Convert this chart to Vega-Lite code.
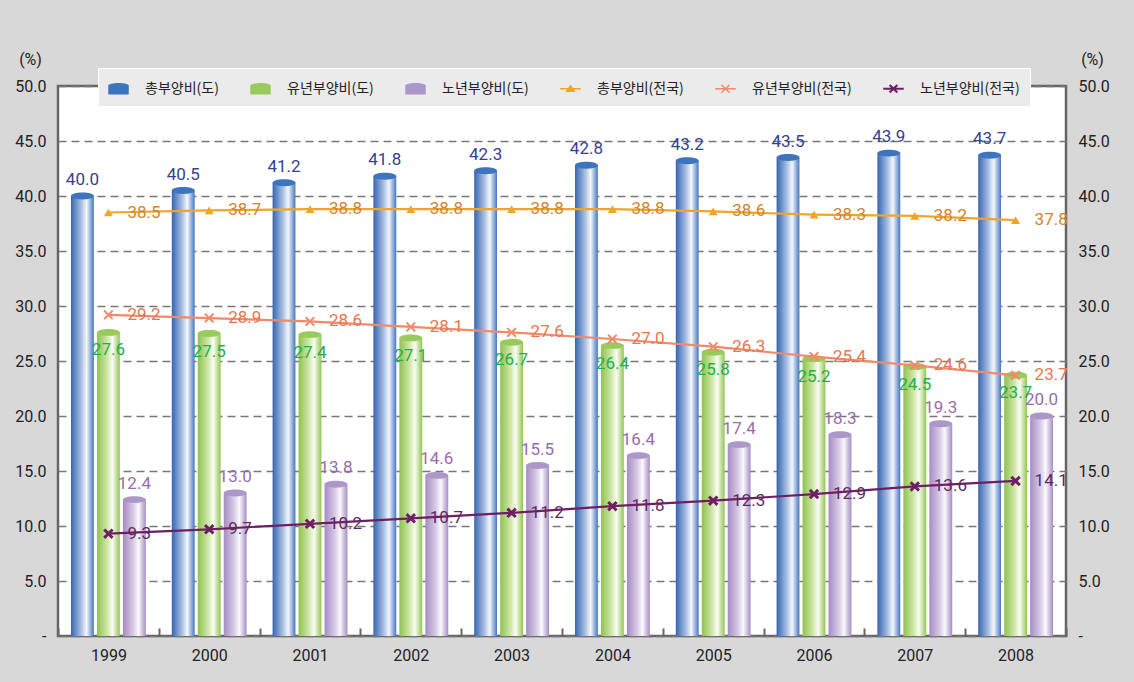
{
  "$schema": "https://vega.github.io/schema/vega-lite/v6.json",
  "width": 1008,
  "height": 550,
  "autosize": {"type": "none"},
  "padding": {"left": 58, "top": 86, "right": 68, "bottom": 46},
  "background": "#d8d8d8",
  "config": {
    "view": {"fill": "#ffffff", "stroke": "#666666", "strokeWidth": 2.5},
    "font": "Roboto"
  },
  "data": {
    "values": [
      {"year": "1999", "series": "총부양비(도)", "value": 40.0},
      {"year": "2000", "series": "총부양비(도)", "value": 40.5},
      {"year": "2001", "series": "총부양비(도)", "value": 41.2},
      {"year": "2002", "series": "총부양비(도)", "value": 41.8},
      {"year": "2003", "series": "총부양비(도)", "value": 42.3},
      {"year": "2004", "series": "총부양비(도)", "value": 42.8},
      {"year": "2005", "series": "총부양비(도)", "value": 43.2},
      {"year": "2006", "series": "총부양비(도)", "value": 43.5},
      {"year": "2007", "series": "총부양비(도)", "value": 43.9},
      {"year": "2008", "series": "총부양비(도)", "value": 43.7},
      {"year": "1999", "series": "유년부양비(도)", "value": 27.6},
      {"year": "2000", "series": "유년부양비(도)", "value": 27.5},
      {"year": "2001", "series": "유년부양비(도)", "value": 27.4},
      {"year": "2002", "series": "유년부양비(도)", "value": 27.1},
      {"year": "2003", "series": "유년부양비(도)", "value": 26.7},
      {"year": "2004", "series": "유년부양비(도)", "value": 26.4},
      {"year": "2005", "series": "유년부양비(도)", "value": 25.8},
      {"year": "2006", "series": "유년부양비(도)", "value": 25.2},
      {"year": "2007", "series": "유년부양비(도)", "value": 24.5},
      {"year": "2008", "series": "유년부양비(도)", "value": 23.7},
      {"year": "1999", "series": "노년부양비(도)", "value": 12.4},
      {"year": "2000", "series": "노년부양비(도)", "value": 13.0},
      {"year": "2001", "series": "노년부양비(도)", "value": 13.8},
      {"year": "2002", "series": "노년부양비(도)", "value": 14.6},
      {"year": "2003", "series": "노년부양비(도)", "value": 15.5},
      {"year": "2004", "series": "노년부양비(도)", "value": 16.4},
      {"year": "2005", "series": "노년부양비(도)", "value": 17.4},
      {"year": "2006", "series": "노년부양비(도)", "value": 18.3},
      {"year": "2007", "series": "노년부양비(도)", "value": 19.3},
      {"year": "2008", "series": "노년부양비(도)", "value": 20.0},
      {"year": "1999", "series": "총부양비(전국)", "value": 38.5},
      {"year": "2000", "series": "총부양비(전국)", "value": 38.7},
      {"year": "2001", "series": "총부양비(전국)", "value": 38.8},
      {"year": "2002", "series": "총부양비(전국)", "value": 38.8},
      {"year": "2003", "series": "총부양비(전국)", "value": 38.8},
      {"year": "2004", "series": "총부양비(전국)", "value": 38.8},
      {"year": "2005", "series": "총부양비(전국)", "value": 38.6},
      {"year": "2006", "series": "총부양비(전국)", "value": 38.3},
      {"year": "2007", "series": "총부양비(전국)", "value": 38.2},
      {"year": "2008", "series": "총부양비(전국)", "value": 37.8},
      {"year": "1999", "series": "유년부양비(전국)", "value": 29.2},
      {"year": "2000", "series": "유년부양비(전국)", "value": 28.9},
      {"year": "2001", "series": "유년부양비(전국)", "value": 28.6},
      {"year": "2002", "series": "유년부양비(전국)", "value": 28.1},
      {"year": "2003", "series": "유년부양비(전국)", "value": 27.6},
      {"year": "2004", "series": "유년부양비(전국)", "value": 27.0},
      {"year": "2005", "series": "유년부양비(전국)", "value": 26.3},
      {"year": "2006", "series": "유년부양비(전국)", "value": 25.4},
      {"year": "2007", "series": "유년부양비(전국)", "value": 24.6},
      {"year": "2008", "series": "유년부양비(전국)", "value": 23.7},
      {"year": "1999", "series": "노년부양비(전국)", "value": 9.3},
      {"year": "2000", "series": "노년부양비(전국)", "value": 9.7},
      {"year": "2001", "series": "노년부양비(전국)", "value": 10.2},
      {"year": "2002", "series": "노년부양비(전국)", "value": 10.7},
      {"year": "2003", "series": "노년부양비(전국)", "value": 11.2},
      {"year": "2004", "series": "노년부양비(전국)", "value": 11.8},
      {"year": "2005", "series": "노년부양비(전국)", "value": 12.3},
      {"year": "2006", "series": "노년부양비(전국)", "value": 12.9},
      {"year": "2007", "series": "노년부양비(전국)", "value": 13.6},
      {"year": "2008", "series": "노년부양비(전국)", "value": 14.1}
    ]
  },
  "encoding": {
    "x": {
      "field": "year", "type": "ordinal",
      "scale": {"paddingInner": 0, "paddingOuter": 0},
      "axis": {
        "title": null, "labelAngle": 0, "labelFontSize": 16, "labelColor": "#222222",
        "labelPadding": 19, "tickBand": "extent", "tickSize": -8, "tickColor": "#666666",
        "tickWidth": 2, "domain": false, "grid": false
      }
    }
  },
  "layer": [
    {
      "transform": [{"filter": "datum.series == '총부양비(도)'"}],
      "mark": {"type": "bar", "color": {"gradient": "linear", "x1": 0, "x2": 1, "y1": 0, "y2": 0,
        "stops": [{"offset": 0, "color": "#3666b0"}, {"offset": 0.45, "color": "#a9bfe3"}, {"offset": 0.68, "color": "#f5f7fc"}, {"offset": 1, "color": "#4477c2"}]}},
      "encoding": {
        "y": {"field": "value", "type": "quantitative",
          "scale": {"domain": [0, 50], "nice": false},
          "axis": {
            "orient": "left", "title": "(%)", "titleAngle": 0, "titleX": -28, "titleY": -27,
            "titleAlign": "center", "titleBaseline": "middle", "titleFontSize": 16,
            "titleFontWeight": "normal", "titleColor": "#222222",
            "values": [0, 5, 10, 15, 20, 25, 30, 35, 40, 45, 50],
            "labelExpr": "datum.value == 0 ? '-' : format(datum.value, '.1f')",
            "labelFontSize": 16, "labelColor": "#222222", "labelPadding": 12,
            "ticks": false, "domain": false, "grid": true, "gridDash": [8, 5],
            "gridColor": "#777777", "gridWidth": 1.3
          }},
        "xOffset": {"field": "series", "type": "nominal",
          "scale": {"domain": ["총부양비(도)", "유년부양비(도)", "노년부양비(도)"], "paddingInner": 0.12, "paddingOuter": 0.5}}
      }
    },
    {
      "transform": [{"filter": "datum.series == '유년부양비(도)'"}],
      "mark": {"type": "bar", "color": {"gradient": "linear", "x1": 0, "x2": 1, "y1": 0, "y2": 0,
        "stops": [{"offset": 0, "color": "#8fc24f"}, {"offset": 0.45, "color": "#cfe7a8"}, {"offset": 0.68, "color": "#fbfdf5"}, {"offset": 1, "color": "#92c553"}]}},
      "encoding": {
        "y": {"field": "value", "type": "quantitative", "axis": null},
        "xOffset": {"field": "series", "type": "nominal"}
      }
    },
    {
      "transform": [{"filter": "datum.series == '노년부양비(도)'"}],
      "mark": {"type": "bar", "color": {"gradient": "linear", "x1": 0, "x2": 1, "y1": 0, "y2": 0,
        "stops": [{"offset": 0, "color": "#a58cc2"}, {"offset": 0.45, "color": "#d7cae6"}, {"offset": 0.68, "color": "#fbf9fd"}, {"offset": 1, "color": "#a68dc3"}]}},
      "encoding": {
        "y": {"field": "value", "type": "quantitative", "axis": null},
        "xOffset": {"field": "series", "type": "nominal"}
      }
    },
    {
      "transform": [{"filter": {"field": "series", "oneOf": ["총부양비(도)", "유년부양비(도)", "노년부양비(도)"]}}],
      "mark": {"type": "point", "filled": true, "opacity": 1, "strokeWidth": 0, "size": 524,
        "shape": "M-1,0A1,0.3 0 1,1 1,0A1,0.3 0 1,1 -1,0Z"},
      "encoding": {
        "y": {"field": "value", "type": "quantitative", "axis": null},
        "xOffset": {"field": "series", "type": "nominal"},
        "color": {"field": "series", "type": "nominal",
          "scale": {"domain": ["총부양비(도)", "유년부양비(도)", "노년부양비(도)", "총부양비(전국)", "유년부양비(전국)", "노년부양비(전국)"],
            "range": ["#3d74be", "#98cb5c", "#ad96c8", "#f0a524", "#f08a6a", "#6e1f63"]},
          "legend": {"orient": "none", "legendX": 40, "legendY": -18, "direction": "horizontal", "columns": 6,
            "title": null, "fillColor": "#ebebeb", "strokeColor": "#ffffff", "padding": 10, "symbolSize": 420,
            "labelFont": "Noto Sans CJK KR", "labelFontSize": 14, "labelColor": "#222222",
            "columnPadding": 31, "labelOffset": 16, "symbolStrokeWidth": 0}}
      }
    },
    {
      "transform": [{"filter": {"field": "series", "oneOf": ["총부양비(전국)", "유년부양비(전국)", "노년부양비(전국)"]}}],
      "mark": {"type": "line", "strokeWidth": 2.2},
      "encoding": {
        "y": {"field": "value", "type": "quantitative", "axis": null},
        "stroke": {"field": "series", "type": "nominal", "legend": null,
          "scale": {"domain": ["총부양비(전국)", "유년부양비(전국)", "노년부양비(전국)"], "range": ["#f0a524", "#f08a6a", "#6e1f63"]}}
      }
    },
    {
      "transform": [{"filter": "datum.series == '총부양비(전국)'"}],
      "mark": {"type": "point", "filled": true, "opacity": 1, "shape": "triangle-up", "size": 80, "color": "#f0a524"},
      "encoding": {"y": {"field": "value", "type": "quantitative", "axis": null}}
    },
    {
      "transform": [{"filter": "datum.series == '유년부양비(전국)'"}],
      "mark": {"type": "point", "filled": true, "opacity": 1, "size": 100, "color": "#f08a6a",
        "shape": "M-0.72,-1L0,-0.28L0.72,-1L1,-0.72L0.28,0L1,0.72L0.72,1L0,0.28L-0.72,1L-1,0.72L-0.28,0L-1,-0.72Z"},
      "encoding": {"y": {"field": "value", "type": "quantitative", "axis": null}}
    },
    {
      "transform": [{"filter": "datum.series == '노년부양비(전국)'"}],
      "mark": {"type": "point", "filled": true, "opacity": 1, "size": 110, "color": "#6e1f63",
        "shape": "M-0.6,-1L0,-0.4L0.6,-1L1,-0.6L0.4,0L1,0.6L0.6,1L0,0.4L-0.6,1L-1,0.6L-0.4,0L-1,-0.6Z"},
      "encoding": {"y": {"field": "value", "type": "quantitative", "axis": null}}
    },
    {
      "mark": {"type": "point", "filled": true, "opacity": 0},
      "encoding": {
        "y": {"field": "value", "type": "quantitative",
          "axis": {
            "orient": "right", "title": "(%)", "titleAngle": 0, "titleX": 26, "titleY": -27,
            "titleAlign": "center", "titleBaseline": "middle", "titleFontSize": 16,
            "titleFontWeight": "normal", "titleColor": "#222222",
            "values": [0, 5, 10, 15, 20, 25, 30, 35, 40, 45, 50],
            "labelExpr": "datum.value == 0 ? '-' : format(datum.value, '.1f')",
            "labelFontSize": 16, "labelColor": "#222222", "labelPadding": 12,
            "ticks": false, "domain": false, "grid": false
          }},
        "color": {"field": "series", "type": "nominal"},
        "shape": {"field": "series", "type": "nominal",
          "scale": {"domain": ["총부양비(도)", "유년부양비(도)", "노년부양비(도)", "총부양비(전국)", "유년부양비(전국)", "노년부양비(전국)"],
            "range": [
              "M-1,-0.3A1,0.25 0 0,1 1,-0.3L1,0.55L-1,0.55Z",
              "M-1,-0.3A1,0.25 0 0,1 1,-0.3L1,0.55L-1,0.55Z",
              "M-1,-0.3A1,0.25 0 0,1 1,-0.3L1,0.55L-1,0.55Z",
              "M-1,-0.08L1,-0.08L1,0.08L-1,0.08Z M0,-0.42L0.5,0.32L-0.5,0.32Z",
              "M-1,-0.08L1,-0.08L1,0.08L-1,0.08Z M-0.35,-0.45L0,-0.1L0.35,-0.45L0.45,-0.35L0.1,0L0.45,0.35L0.35,0.45L0,0.1L-0.35,0.45L-0.45,0.35L-0.1,0L-0.45,-0.35Z",
              "M-1,-0.09L1,-0.09L1,0.09L-1,0.09Z M-0.3,-0.45L0,-0.15L0.3,-0.45L0.45,-0.3L0.15,0L0.45,0.3L0.3,0.45L0,0.15L-0.3,0.45L-0.45,0.3L-0.15,0L-0.45,-0.3Z"
            ]},
          "legend": {"orient": "none", "legendX": 40, "legendY": -18, "direction": "horizontal", "columns": 6,
            "title": null, "fillColor": "#ebebeb", "strokeColor": "#ffffff", "padding": 10, "symbolSize": 420,
            "labelFont": "Noto Sans CJK KR", "labelFontSize": 14, "labelColor": "#222222",
            "columnPadding": 31, "labelOffset": 16, "symbolStrokeWidth": 0}}
      }
    },
    {
      "transform": [{"filter": {"field": "series", "oneOf": ["총부양비(도)", "노년부양비(도)"]}}],
      "mark": {"type": "text", "dy": -16, "fontSize": 17, "baseline": "middle"},
      "encoding": {
        "y": {"field": "value", "type": "quantitative", "axis": null},
        "xOffset": {"field": "series", "type": "nominal"},
        "text": {"field": "value", "type": "quantitative", "format": ".1f"},
        "fill": {"field": "series", "type": "nominal", "legend": null,
          "scale": {"domain": ["총부양비(도)", "유년부양비(도)", "노년부양비(도)", "총부양비(전국)", "유년부양비(전국)", "노년부양비(전국)"],
            "range": ["#37408f", "#1fae50", "#9a6bab", "#d3832f", "#e8764f", "#5e2a5e"]}}
      }
    },
    {
      "transform": [{"filter": "datum.series == '유년부양비(도)'"}],
      "mark": {"type": "text", "dy": 18, "fontSize": 17, "baseline": "middle"},
      "encoding": {
        "y": {"field": "value", "type": "quantitative", "axis": null},
        "xOffset": {"field": "series", "type": "nominal"},
        "text": {"field": "value", "type": "quantitative", "format": ".1f"},
        "fill": {"field": "series", "type": "nominal", "legend": null}
      }
    },
    {
      "transform": [{"filter": {"field": "series", "oneOf": ["총부양비(전국)", "유년부양비(전국)", "노년부양비(전국)"]}}],
      "mark": {"type": "text", "dx": 19, "align": "left", "fontSize": 17, "baseline": "middle"},
      "encoding": {
        "y": {"field": "value", "type": "quantitative", "axis": null},
        "text": {"field": "value", "type": "quantitative", "format": ".1f"},
        "fill": {"field": "series", "type": "nominal", "legend": null}
      }
    }
  ],
  "resolve": {"axis": {"y": "independent"}}
}
